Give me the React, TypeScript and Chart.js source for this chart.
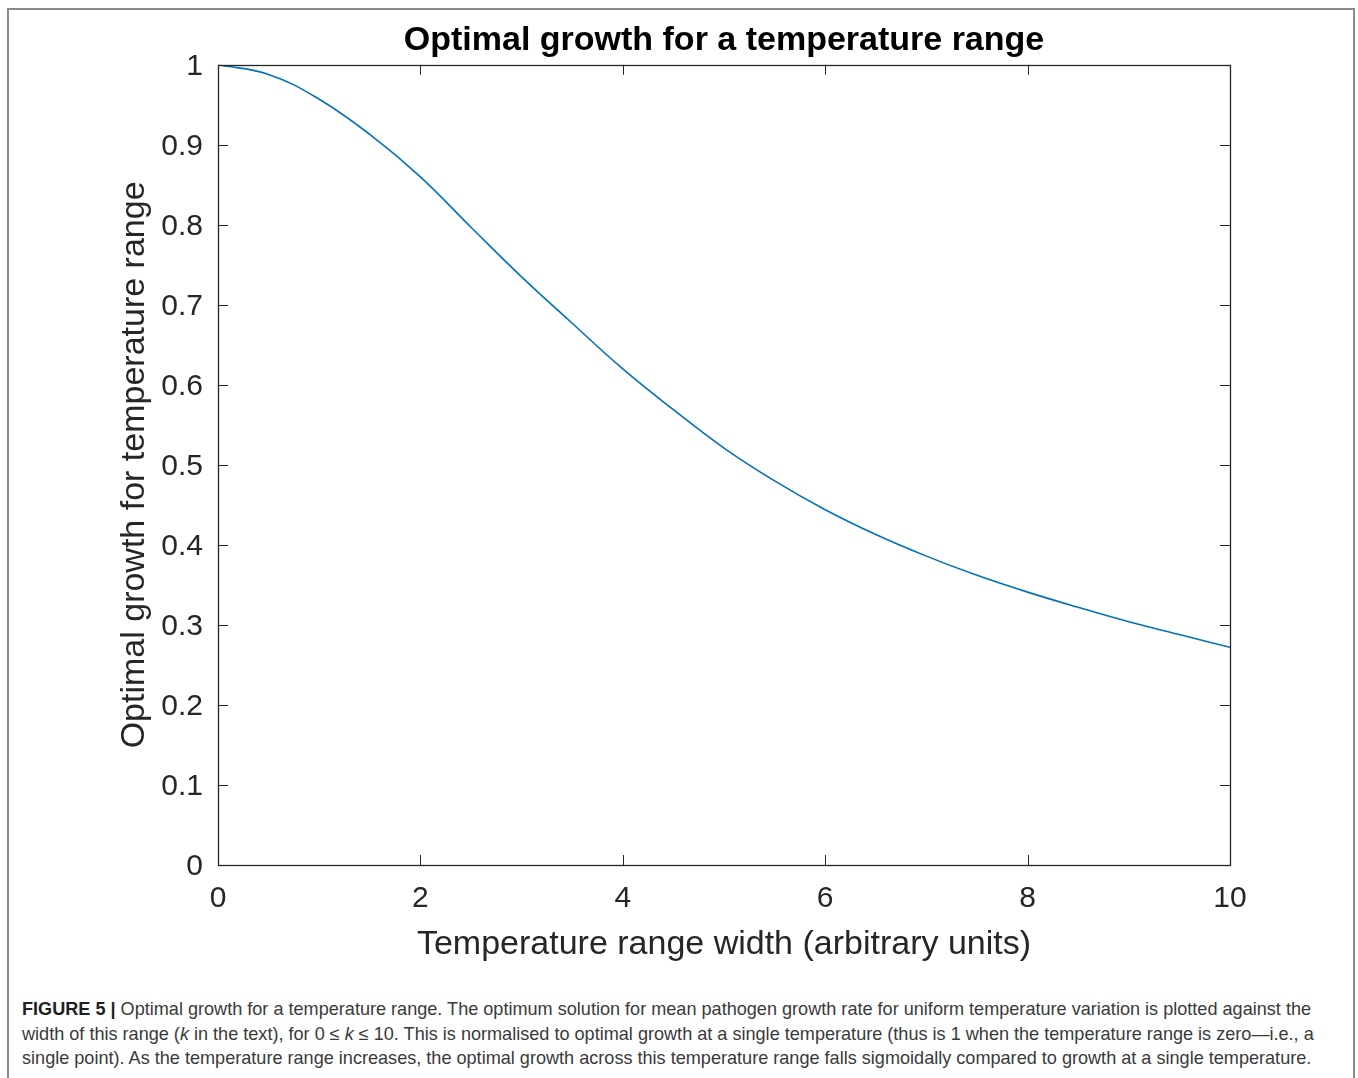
import React, { useEffect, useRef } from "react";
import { Chart, registerables } from "chart.js";

Chart.register(...registerables);

const rangeWidth = [0, 0.5, 1, 1.5, 2, 2.5, 3, 3.5, 4, 4.5, 5, 5.5, 6, 6.5, 7, 7.5, 8, 8.5, 9, 9.5, 10];
const optimalGrowth = [1.0, 0.988, 0.957, 0.913, 0.86, 0.797, 0.735, 0.677, 0.62, 0.569, 0.521, 0.48, 0.444, 0.413, 0.386, 0.362, 0.341, 0.322, 0.304, 0.288, 0.272];
const xTickValues = [0, 2, 4, 6, 8, 10];
const yTickValues = [0, 0.1, 0.2, 0.3, 0.4, 0.5, 0.6, 0.7, 0.8, 0.9, 1];

const chartTitle = "Optimal growth for a temperature range";
const xTitle = "Temperature range width (arbitrary units)";
const yTitle = "Optimal growth for temperature range";

const FONT = "'Liberation Sans', Arial, Helvetica, sans-serif";
const AXIS_COLOR = "#262626";

const boxTicksPlugin = {
  id: "boxTicks",
  afterDraw(chart: any) {
    const { ctx, chartArea } = chart;
    const { left, right, top, bottom } = chartArea;
    const xs = chart.scales.x;
    const ys = chart.scales.y;
    const len = 10;
    ctx.save();
    ctx.strokeStyle = AXIS_COLOR;
    ctx.lineWidth = 1;
    ctx.beginPath();
    xTickValues.forEach((v) => {
      const px = Math.round(xs.getPixelForValue(v)) + 0.5;
      ctx.moveTo(px, bottom);
      ctx.lineTo(px, bottom - len);
      ctx.moveTo(px, top);
      ctx.lineTo(px, top + len);
    });
    yTickValues.forEach((v) => {
      const py = Math.round(ys.getPixelForValue(v)) + 0.5;
      ctx.moveTo(left, py);
      ctx.lineTo(left + len, py);
      ctx.moveTo(right, py);
      ctx.lineTo(right - len, py);
    });
    ctx.stroke();
    ctx.lineWidth = 1.3;
    ctx.strokeRect(Math.round(left) + 0.5, Math.round(top) + 0.5, Math.round(right - left), Math.round(bottom - top));
    ctx.restore();
  },
};

function App() {
  const canvasRef = useRef<HTMLCanvasElement | null>(null);

  useEffect(() => {
    const canvas = canvasRef.current;
    if (!canvas) return;
    const chart = new Chart(canvas, {
      type: "line",
      data: {
        datasets: [
          {
            data: rangeWidth.map((k, i) => ({ x: k, y: optimalGrowth[i] })),
            borderColor: "#0072BD",
            borderWidth: 1.6,
            pointRadius: 0,
            fill: false,
            tension: 0.4,
          },
        ],
      },
      options: {
        responsive: false,
        animation: false,
        devicePixelRatio: 1,
        layout: { padding: { top: 0, left: 0, right: 128, bottom: 0 } },
        plugins: {
          legend: { display: false },
          tooltip: { enabled: false },
          title: {
            display: true,
            fullSize: false,
            text: chartTitle,
            color: "#000000",
            font: { family: FONT, size: 34, weight: "bold", lineHeight: 1.2 },
            padding: { top: 20, bottom: 4 },
          },
        },
        scales: {
          x: {
            type: "linear",
            min: 0,
            max: 10,
            afterFit: (scale: any) => {
              scale.height = 115;
            },
            afterBuildTicks: (scale: any) => {
              scale.ticks = xTickValues.map((v) => ({ value: v }));
            },
            grid: { display: false, drawTicks: false },
            border: { display: false },
            ticks: {
              color: AXIS_COLOR,
              font: { family: FONT, size: 30 },
              padding: 16,
              maxRotation: 0,
              autoSkip: false,
              callback: (v: any) => String(v),
            },
            title: {
              display: true,
              text: xTitle,
              color: AXIS_COLOR,
              font: { family: FONT, size: 34, lineHeight: 1.2 },
              padding: { top: 0, bottom: 14.6 },
            },
          },
          y: {
            type: "linear",
            min: 0,
            max: 1,
            afterFit: (scale: any) => {
              scale.width = 218;
            },
            afterBuildTicks: (scale: any) => {
              scale.ticks = yTickValues.map((v) => ({ value: v }));
            },
            grid: { display: false, drawTicks: false },
            border: { display: false },
            ticks: {
              color: AXIS_COLOR,
              font: { family: FONT, size: 30 },
              padding: 15,
              labelOffset: 2,
              autoSkip: false,
              callback: (v: any) => String(Number(Number(v).toFixed(1))),
            },
            title: {
              display: true,
              text: yTitle,
              color: AXIS_COLOR,
              font: { family: FONT, size: 34, lineHeight: 1.2 },
              padding: { top: 114.6, bottom: 0 },
            },
          },
        },
      },
      plugins: [boxTicksPlugin],
    } as any);
    return () => chart.destroy();
  }, []);

  const captionLine: React.CSSProperties = {
    whiteSpace: "nowrap",
    height: 24.5,
    lineHeight: "24.5px",
  };

  return (
    <div
      style={{
        position: "fixed",
        left: 0,
        top: 0,
        width: 1358,
        height: 1078,
        overflow: "hidden",
        background: "#ffffff",
        fontFamily: FONT,
      }}
    >
      <div
        style={{
          position: "absolute",
          left: 7,
          top: 8,
          width: 1348,
          height: 1120,
          border: "2px solid #8a8a8a",
          boxSizing: "border-box",
        }}
      />
      <canvas
        ref={canvasRef}
        width={1358}
        height={980}
        style={{ position: "absolute", left: 0, top: 0, width: 1358, height: 980 }}
      />
      <div
        style={{
          position: "absolute",
          left: 22,
          top: 997,
          fontSize: 18.1,
          color: "#3a3a3a",
          fontFamily: FONT,
        }}
      >
        <div style={captionLine}>
          <b style={{ color: "#1f1f1f" }}>FIGURE 5 |</b> Optimal growth for a temperature range. The optimum solution for mean pathogen growth rate for uniform temperature variation is plotted against the
        </div>
        <div style={captionLine}>
          width of this range (<i>k</i> in the text), for 0 ≤ <i>k</i> ≤ 10. This is normalised to optimal growth at a single temperature (thus is 1 when the temperature range is zero—i.e., a
        </div>
        <div style={captionLine}>
          single point). As the temperature range increases, the optimal growth across this temperature range falls sigmoidally compared to growth at a single temperature.
        </div>
      </div>
    </div>
  );
}

export default App;
